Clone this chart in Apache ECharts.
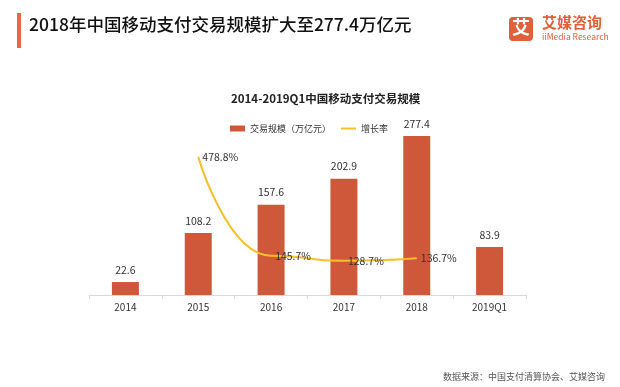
<!DOCTYPE html>
<html><head><meta charset="utf-8">
<script src="https://cdn.jsdelivr.net/npm/echarts@6/dist/echarts.min.js"></script>
<style>html,body{margin:0;padding:0;background:#fff}#c{width:620px;height:387px}</style>
</head><body><div id="c"></div>
<script>
var categories = ['2014','2015','2016','2017','2018','2019Q1'];
var volume = [22.6, 108.2, 157.6, 202.9, 277.4, 83.9];
var growth = [null, 478.8, 145.7, 128.7, 136.7, null];
var pageTitle = '2018年中国移动支付交易规模扩大至277.4万亿元';
var chartTitle = '2014-2019Q1中国移动支付交易规模';
var sourceText = '数据来源：中国支付清算协会、艾媒咨询';
var F = '"Noto Sans CJK SC", "Noto Sans", sans-serif';
var chart = echarts.init(document.getElementById('c'));
chart.setOption({
  animation: false,
  backgroundColor: '#fff',
  textStyle: {fontFamily: F},
  title: {text: chartTitle, left: 226, top: 88, textStyle: {fontSize: 11.5, fontWeight: 'bold', color: '#222', fontFamily: F}},
  legend: {top: 119, left: 225, itemGap: 10, itemWidth: 15, itemHeight: 6, textStyle: {fontSize: 9, color: '#333', fontFamily: F},
    data: [{name: '交易规模（万亿元）', icon: 'rect'}, {name: '增长率', icon: 'path://M0,0 L15,0 L15,2 L0,2 Z', itemStyle: {color: '#F6C02A'}}]},
  grid: {left: 89, right: 94, top: 123, bottom: 92},
  xAxis: {type: 'category', data: categories,
    axisLine: {lineStyle: {color: '#d9d9d9'}},
    axisTick: {show: true, length: 4, lineStyle: {color: '#d9d9d9'}},
    axisLabel: {fontSize: 10, color: '#333', margin: 7, fontFamily: F}},
  yAxis: [
    {type: 'value', min: 0, max: 300, show: false, splitLine: {show: false}},
    {type: 'value', min: 13, max: 593, show: false, splitLine: {show: false}}
  ],
  series: [
    {name: '交易规模（万亿元）', type: 'bar', data: volume, barWidth: 27, itemStyle: {color: '#D0583A'},
      label: {show: true, position: 'top', distance: 7, fontSize: 10.5, color: '#333', fontFamily: F}},
    {name: '增长率', type: 'line', yAxisIndex: 1, data: growth, smooth: 0.6, smoothMonotone: 'x',
      showSymbol: true, symbol: 'circle', symbolSize: 0.1,
      lineStyle: {color: '#F6C02A', width: 2}, itemStyle: {color: '#F6C02A'},
      label: {show: true, position: 'right', distance: 4, fontSize: 10.5, color: '#333', fontFamily: F,
        formatter: function(p){return p.value + '%';}}}
  ],
  graphic: [
    {type: 'rect', left: 17, top: 13, shape: {width: 4, height: 35}, style: {fill: '#E8683F'}},
    {type: 'text', left: 29, top: 16, style: {text: pageTitle, fontSize: 17.5, fill: '#111', fontFamily: F, fontWeight: 500}},
    {type: 'rect', left: 509, top: 17, shape: {width: 24, height: 24, r: 4}, style: {fill: '#E0603A'}},
    {type: 'text', left: 512, top: 18, style: {text: '艾', fontSize: 18, fontWeight: 'bold', fill: '#fff', fontFamily: F}},
    {type: 'text', left: 542, top: 15, style: {text: '艾媒咨询', fontSize: 15, fontWeight: 'bold', fill: '#E0603A', fontFamily: F}},
    {type: 'text', left: 542, top: 33, style: {text: 'iiMedia Research', fontSize: 8.5, fill: '#E0603A', fontFamily: F}},
    {type: 'text', left: 443, top: 372, style: {text: sourceText, fontSize: 9, fill: '#555', fontFamily: F}}
  ]
});
</script></body></html>
